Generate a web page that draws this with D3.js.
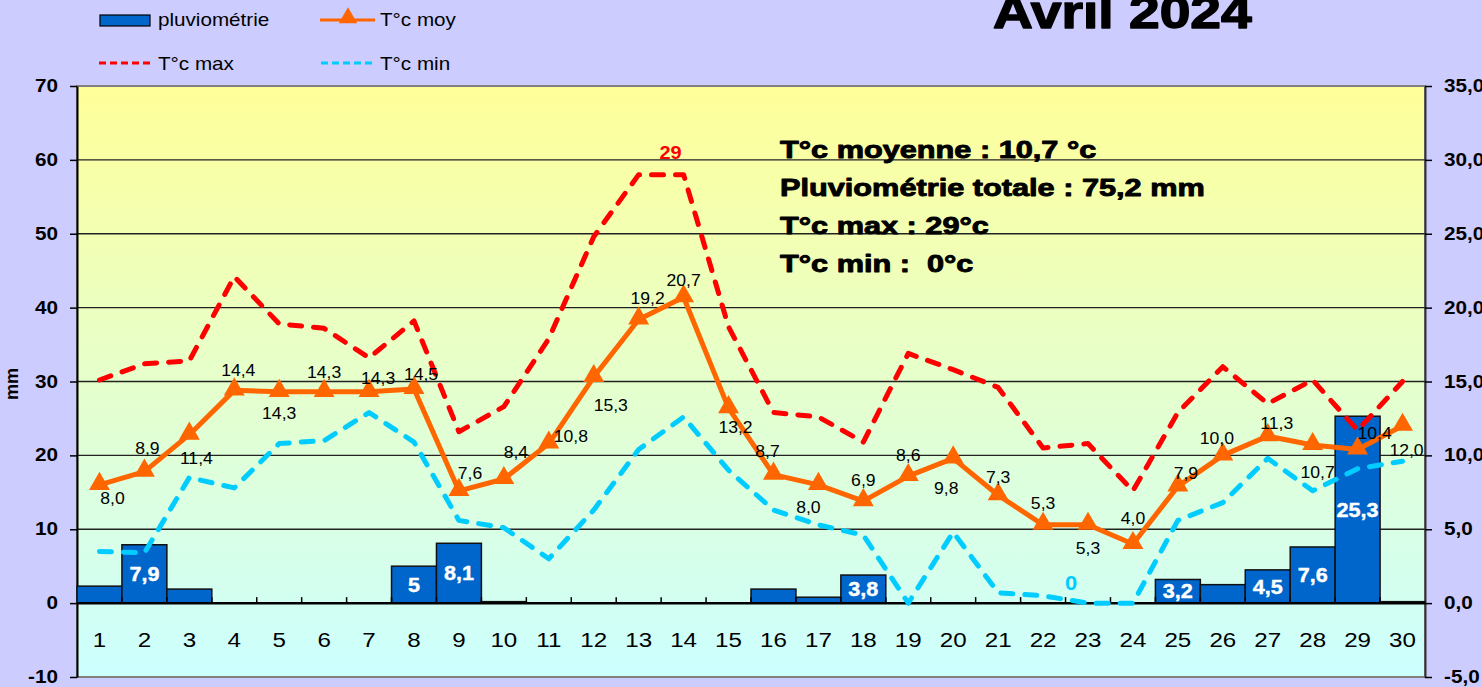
<!DOCTYPE html>
<html>
<head>
<meta charset="utf-8">
<script src="https://cdn.jsdelivr.net/npm/d3@7"></script>
<style>
  body { margin: 0; background: #ccccff; }
  text { font-family: "Liberation Sans", Arial, sans-serif; }
</style>
</head>
<body>
<div id="chart"></div>
<script>
// day numbers
var days = d3.range(1, 31);

// rainfall (mm)
var pluvio = [2.3, 7.9, 1.9, 0, 0, 0, 0, 5, 8.1, 0.2,
              0, 0, 0, 0, 0, 1.9, 0.8, 3.8, 0, 0,
              0, 0, 0, 0, 3.2, 2.5, 4.5, 7.6, 25.3, 0.2];

// temperatures (°c)
var tMoy = [8.0, 8.9, 11.4, 14.4, 14.3, 14.3, 14.3, 14.5, 7.6, 8.4,
            10.8, 15.3, 19.2, 20.7, 13.2, 8.7, 8.0, 6.9, 8.6, 9.8,
            7.3, 5.3, 5.3, 4.0, 7.9, 10.0, 11.3, 10.7, 10.4, 12.0];
var tMax = [15.1, 16.2, 16.4, 22.1, 18.9, 18.6, 16.6, 19.1, 11.6, 13.3,
            17.9, 24.8, 29.0, 29.0, 18.7, 12.9, 12.6, 10.9, 16.9, 15.8,
            14.6, 10.5, 10.8, 7.6, 12.9, 16.0, 13.5, 15.1, 11.7, 15.0];
var tMin = [3.5, 3.4, 8.5, 7.8, 10.8, 11.0, 12.9, 10.9, 5.6, 5.1,
            3.0, 6.3, 10.4, 12.6, 9.0, 6.3, 5.3, 4.6, 0.0, 4.8,
            0.7, 0.5, 0.0, 0.0, 5.6, 6.8, 9.8, 7.6, 9.1, 9.6];

// axis ticks
var mmTicks = [-10, 0, 10, 20, 30, 40, 50, 60, 70];
var tempTicks = [-5, 0, 5, 10, 15, 20, 25, 30, 35];

// summary box
var summary = ["T°c moyenne : 10,7 °c", "Pluviométrie totale : 75,2 mm",
               "T°c max : 29°c", "T°c min :  0°c"];

// where each T moy label sits relative to its triangle [dx, dy]
var moyLabelOff = [[13,13],[3,-24],[7,23],[4,-20],[0,21],[0,-20],[9,-14],[7,-15],[11,-18],[12,-27],
                   [22,-8],[17,28],[9,-21],[0,-17],[7,19],[-6,-24],[-10,22],[0,-21],[0,-21],[-7,30],
                   [0,-18],[0,-22],[0,23],[0,-26],[8,-13],[-6,-17],[9,-13],[5,27],[17,-16],[4,24]];

var W = 1482, H = 687;
var pLeft = 77, pRight = 1425, pTop = 86, pBottom = 677;
var SX = 1.18; // text in the source is stretched horizontally

var comma = function(v, dec) { return v.toFixed(dec).replace(".", ","); };

var svg = d3.select("#chart").append("svg")
    .attr("width", W).attr("height", H);

function stext(g, x, y, str, size, opts) {
  opts = opts || {};
  var t = g.append("text")
      .attr("transform", "translate(" + x + "," + y + ") scale(" + (opts.sx || SX) + ",1)")
      .attr("font-size", size)
      .attr("font-weight", opts.weight || "normal")
      .attr("fill", opts.fill || "#000")
      .attr("text-anchor", opts.anchor || "middle")
      .style("white-space", "pre")
      .text(str);
  if (opts.heavy) {
    t.attr("stroke", opts.fill || "#000").attr("stroke-width", opts.heavy)
     .attr("stroke-linejoin", "round");
  }
  return t;
}

var defs = svg.append("defs");
var grad = defs.append("linearGradient").attr("id", "bg")
    .attr("x1", 0).attr("y1", 0).attr("x2", 0).attr("y2", 1);
grad.append("stop").attr("offset", "0%").attr("stop-color", "#ffff99");
grad.append("stop").attr("offset", "100%").attr("stop-color", "#ccffff");

var x = d3.scaleBand().domain(days).range([pLeft, pRight]).padding(0);
var yL = d3.scaleLinear().domain([-10, 70]).range([pBottom, pTop]);
var yR = d3.scaleLinear().domain([-5, 35]).range([pBottom, pTop]);
var bw = x.bandwidth();
var cx = function(d) { return x(d) + bw / 2; };

// plot background
svg.append("rect")
    .attr("x", pLeft).attr("y", pTop)
    .attr("width", pRight - pLeft).attr("height", pBottom - pTop)
    .attr("fill", "url(#bg)")
    .attr("stroke", "#808080").attr("stroke-width", 2);

// gridlines
svg.append("g").selectAll("line")
    .data(mmTicks.filter(function(v) { return v > 0 && v < 70; }))
    .enter().append("line")
    .attr("x1", pLeft).attr("x2", pRight)
    .attr("y1", function(d) { return yL(d); })
    .attr("y2", function(d) { return yL(d); })
    .attr("stroke", "#222").attr("stroke-width", 1.3);

// left axis
var axL = svg.append("g")
    .attr("transform", "translate(" + pLeft + ",0)")
    .call(d3.axisLeft(yL).tickValues(mmTicks).tickSize(7).tickSizeOuter(0).tickFormat(""));
axL.select(".domain").attr("stroke", "#000").attr("stroke-width", 2);
axL.selectAll(".tick line").attr("stroke", "#000").attr("stroke-width", 1.5);
mmTicks.forEach(function(v) {
  stext(svg, 58, yL(v) + 6, String(v), 18, {weight: "bold", anchor: "end", sx: 1.15});
});

// right axis
var axR = svg.append("g")
    .attr("transform", "translate(" + pRight + ",0)")
    .call(d3.axisRight(yR).tickValues(tempTicks).tickSize(7).tickSizeOuter(0).tickFormat(""));
axR.select(".domain").attr("stroke", "#333").attr("stroke-width", 2);
axR.selectAll(".tick line").attr("stroke", "#000").attr("stroke-width", 1.5);
tempTicks.forEach(function(v) {
  stext(svg, 1444, yR(v) + 6, comma(v, 1), 18, {weight: "bold", anchor: "start", sx: 1.15});
});

// mm title
svg.append("text")
    .attr("transform", "translate(18,384) rotate(-90)")
    .attr("text-anchor", "middle")
    .attr("font-size", 18).attr("font-weight", "bold")
    .text("mm");

// bars
svg.append("g").selectAll("rect")
    .data(days.filter(function(d, i) { return pluvio[i] > 0; }))
    .enter().append("rect")
    .attr("x", function(d) { return x(d); })
    .attr("y", function(d) { return yL(pluvio[d - 1]); })
    .attr("width", bw)
    .attr("height", function(d) { return yL(0) - yL(pluvio[d - 1]); })
    .attr("fill", "#0066cc")
    .attr("stroke", "#111").attr("stroke-width", 1.5);

// zero line + category ticks
svg.append("line")
    .attr("x1", pLeft).attr("x2", pRight)
    .attr("y1", yL(0)).attr("y2", yL(0))
    .attr("stroke", "#000").attr("stroke-width", 2.5);
svg.append("g").selectAll("line")
    .data(days.slice(1))
    .enter().append("line")
    .attr("x1", function(d) { return x(d); })
    .attr("x2", function(d) { return x(d); })
    .attr("y1", yL(0)).attr("y2", yL(0) - 6)
    .attr("stroke", "#000").attr("stroke-width", 1.5);

// day labels
days.forEach(function(d) {
  stext(svg, cx(d), 647, String(d), 21, {sx: 1.15});
});

// lines
var lineMax = d3.line()
    .x(function(d) { return cx(d); })
    .y(function(d) { return yR(tMax[d - 1]); });
var lineMin = d3.line()
    .x(function(d) { return cx(d); })
    .y(function(d) { return yR(tMin[d - 1]); });
var lineMoy = d3.line()
    .x(function(d) { return cx(d); })
    .y(function(d) { return yR(tMoy[d - 1]); });

svg.append("path").datum(days)
    .attr("d", lineMin)
    .attr("fill", "none").attr("stroke", "#00ccff")
    .attr("stroke-width", 5).attr("stroke-linecap", "round").attr("stroke-linejoin", "round")
    .attr("stroke-dasharray", "12,12");
svg.append("path").datum(days)
    .attr("d", lineMax)
    .attr("fill", "none").attr("stroke", "#ff0000")
    .attr("stroke-width", 5).attr("stroke-linecap", "round").attr("stroke-linejoin", "round")
    .attr("stroke-dasharray", "12,12");
svg.append("path").datum(days)
    .attr("d", lineMoy)
    .attr("fill", "none").attr("stroke", "#ff6600")
    .attr("stroke-width", 5).attr("stroke-linejoin", "round");

var tri = d3.symbol().type(d3.symbolTriangle).size(190);
svg.append("g").selectAll("path")
    .data(days)
    .enter().append("path")
    .attr("d", tri)
    .attr("transform", function(d) { return "translate(" + cx(d) + "," + (yR(tMoy[d - 1]) - 1) + ")"; })
    .attr("fill", "#ff6600");

// T moy labels
days.forEach(function(d, i) {
  stext(svg, cx(d) + moyLabelOff[i][0], yR(tMoy[i]) + moyLabelOff[i][1] + 6,
        comma(tMoy[i], 1), 16, {sx: 1.1});
});

// bar labels
days.forEach(function(d, i) {
  var v = pluvio[i];
  if (v < 3) return;
  var mid = (yL(v) + yL(0)) / 2;
  stext(svg, cx(d), mid + 7, v % 1 === 0 ? String(v) : comma(v, 1), 20,
        {weight: "bold", fill: "#fff", sx: 1.08, heavy: 0.4});
});

// max / min callouts
var iMaxLast = tMax.lastIndexOf(d3.max(tMax));
stext(svg, cx(days[iMaxLast]) - 13, 159, String(d3.max(tMax)), 19, {weight: "bold", fill: "#ff0000", sx: 1.05});
var iMinMid = 22;
stext(svg, cx(days[iMinMid]) - 17, 590, String(d3.min(tMin)), 20, {weight: "bold", fill: "#00ccff", sx: 1.1});

// summary
summary.forEach(function(s, i) {
  stext(svg, 780, 158 + i * 38, s, 24, {weight: "bold", anchor: "start", sx: 1.28, heavy: 0.9});
});

// title
stext(svg, 993, 28, "Avril 2024", 46, {weight: "bold", anchor: "start", sx: 1.2, heavy: 1.4});

// legend
var lg = svg.append("g");
lg.append("rect").attr("x", 100).attr("y", 15).attr("width", 50).attr("height", 11)
  .attr("fill", "#0066cc").attr("stroke", "#000").attr("stroke-width", 1.2);
stext(lg, 158, 26, "pluviométrie", 17.5, {anchor: "start"});
lg.append("line").attr("x1", 320).attr("x2", 375).attr("y1", 20).attr("y2", 20)
  .attr("stroke", "#ff6600").attr("stroke-width", 3);
lg.append("path").attr("d", d3.symbol().type(d3.symbolTriangle).size(150))
  .attr("transform", "translate(348,18)").attr("fill", "#ff6600");
stext(lg, 380, 26, "T°c moy", 17.5, {anchor: "start"});
lg.append("line").attr("x1", 99).attr("x2", 152).attr("y1", 63).attr("y2", 63)
  .attr("stroke", "#ff0000").attr("stroke-width", 3).attr("stroke-dasharray", "7,4");
stext(lg, 158, 70, "T°c max", 17.5, {anchor: "start"});
lg.append("line").attr("x1", 321).attr("x2", 374).attr("y1", 63).attr("y2", 63)
  .attr("stroke", "#00ccff").attr("stroke-width", 3).attr("stroke-dasharray", "7,4");
stext(lg, 380, 70, "T°c min", 17.5, {anchor: "start"});
</script>
</body>
</html>
